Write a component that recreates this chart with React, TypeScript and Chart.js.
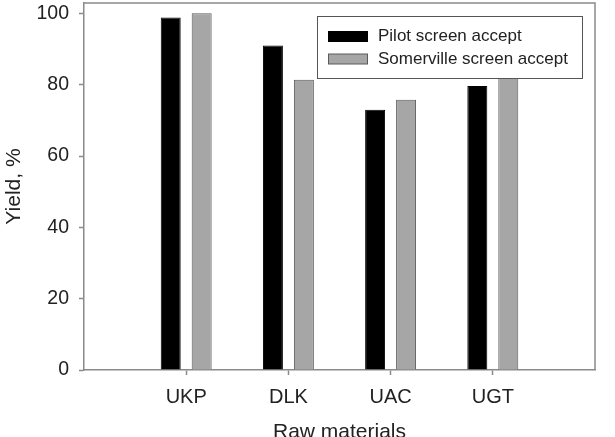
import React, { useEffect, useRef } from "react";
import { Chart, registerables } from "chart.js";

Chart.register(...registerables);

const categories = ["UKP", "DLK", "UAC", "UGT"];
const pilotValues = [98.8, 91.0, 73.0, 79.6];
const somervilleValues = [100.0, 81.4, 75.8, 84.0];
const seriesNames = ["Pilot screen accept", "Somerville screen accept"];
const yTicks = [0, 20, 40, 60, 80, 100];
const xTitle = "Raw materials";
const yTitle = "Yield, %";

const FONT = "'Liberation Sans', Arial, sans-serif";
const FRAME = "#8a8a8a";

const framePlugin = {
  id: "frameAndLegend",
  afterDraw(chart: any) {
    const { ctx, chartArea } = chart;
    ctx.save();
    ctx.strokeStyle = FRAME;
    ctx.lineWidth = 1.5;
    ctx.beginPath();
    ctx.moveTo(chartArea.left, chartArea.top);
    ctx.lineTo(chartArea.right, chartArea.top);
    ctx.lineTo(chartArea.right, chartArea.bottom);
    ctx.stroke();

    ctx.fillStyle = "#222";
    ctx.font = `21px ${FONT}`;
    ctx.textAlign = "center";
    ctx.textBaseline = "alphabetic";
    ctx.fillText(xTitle, (chartArea.left + chartArea.right) / 2, 438);
    ctx.save();
    ctx.translate(19.5, (chartArea.top + chartArea.bottom) / 2);
    ctx.rotate(-Math.PI / 2);
    ctx.fillText(yTitle, 0, 0);
    ctx.restore();

    const bx = 317.5, by = 16.5, bw = 265, bh = 62;
    ctx.fillStyle = "#ffffff";
    ctx.fillRect(bx, by, bw, bh);
    ctx.strokeStyle = "#555";
    ctx.lineWidth = 1;
    ctx.strokeRect(bx, by, bw, bh);
    const rows = [36.5, 59];
    chart.data.datasets.forEach((ds: any, i: number) => {
      const cy = rows[i];
      ctx.fillStyle = ds.backgroundColor;
      ctx.fillRect(328.5, cy - 5, 39, 10);
      ctx.strokeStyle = ds.borderColor;
      ctx.lineWidth = 1;
      ctx.strokeRect(328.5, cy - 5, 39, 10);
      ctx.fillStyle = "#222";
      ctx.font = `17px ${FONT}`;
      ctx.textAlign = "left";
      ctx.textBaseline = "middle";
      ctx.fillText(ds.label, 378, cy);
    });
    ctx.restore();
  },
};

export default function App() {
  const ref = useRef<HTMLCanvasElement | null>(null);

  useEffect(() => {
    if (!ref.current) return;
    const labels = ["", ...categories, ""];
    const chart = new Chart(ref.current, {
      type: "bar",
      data: {
        labels,
        datasets: [
          {
            label: seriesNames[0],
            data: [null, ...pilotValues, null],
            backgroundColor: "#000000",
            borderColor: "#000000",
            borderWidth: 1,
            barPercentage: 0.645,
            categoryPercentage: 0.606,
          },
          {
            label: seriesNames[1],
            data: [null, ...somervilleValues, null],
            backgroundColor: "#a6a6a6",
            borderColor: "#5a5a5a",
            borderWidth: 1,
            barPercentage: 0.645,
            categoryPercentage: 0.606,
          },
        ],
      },
      options: {
        animation: false,
        responsive: false,
        maintainAspectRatio: false,
        devicePixelRatio: 1,
        layout: { padding: { top: 3, right: 20, left: 0, bottom: 0 } },
        plugins: {
          legend: { display: false },
          tooltip: { enabled: false },
          title: { display: false },
        },
        scales: {
          x: {
            type: "category",
            offset: false,
            afterFit: (s: any) => {
              s.height = 67;
              s.paddingLeft = 0;
              s.paddingRight = 0;
            },
            afterBuildTicks: (s: any) => {
              s.ticks = s.ticks.filter((t: any) => labels[t.value] !== "");
            },
            grid: {
              display: true,
              offset: false,
              drawOnChartArea: false,
              drawTicks: true,
              tickLength: 5,
              tickColor: FRAME,
              tickWidth: 1.5,
            },
            border: { display: true, color: FRAME, width: 1.5 },
            ticks: {
              color: "#222",
              font: { family: FONT, size: 20 },
              padding: 10,
              maxRotation: 0,
              autoSkip: false,
            },
          },
          y: {
            min: 0,
            max: 102.9,
            afterFit: (s: any) => {
              s.width = 84;
              s.paddingTop = 0;
              s.paddingBottom = 0;
            },
            afterBuildTicks: (s: any) => {
              s.ticks = yTicks.map((v) => ({ value: v }));
            },
            grid: {
              display: true,
              drawOnChartArea: false,
              drawTicks: true,
              tickLength: 5,
              tickColor: FRAME,
              tickWidth: 1.5,
            },
            border: { display: true, color: FRAME, width: 1.5 },
            ticks: {
              color: "#222",
              font: { family: FONT, size: 19.5 },
              padding: 10,
            },
          },
        },
      },
      plugins: [framePlugin],
    });
    return () => chart.destroy();
  }, []);

  return (
    <div style={{ position: "fixed", left: 0, top: 0, width: 615, height: 437, background: "#fff" }}>
      <canvas ref={ref} width={615} height={437} style={{ width: 615, height: 437, display: "block" }} />
    </div>
  );
}
